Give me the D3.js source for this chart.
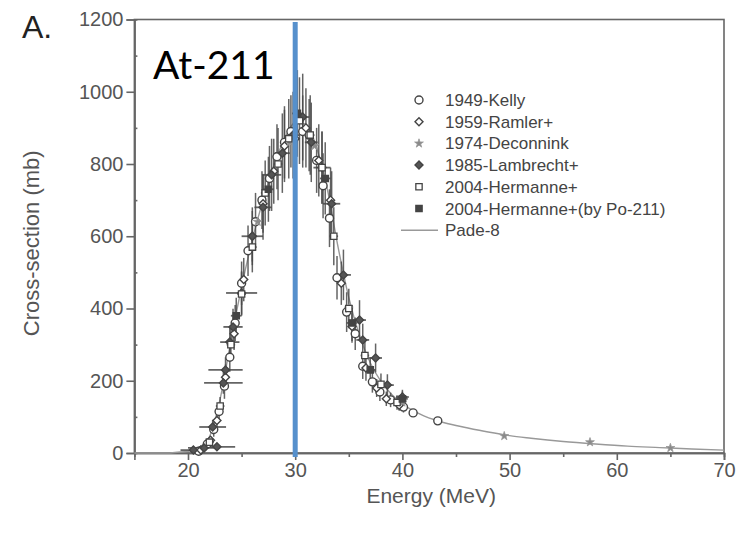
<!DOCTYPE html>
<html>
<head>
<meta charset="utf-8">
<script src="https://cdn.jsdelivr.net/npm/d3@7/dist/d3.min.js"></script>
<style>
  html, body { margin: 0; padding: 0; background: #fff; }
  svg { display: block; }
</style>
</head>
<body>
<svg id="chart" width="748" height="533"></svg>
<script>
// ---------------- DATA ----------------
// each record: [energy (MeV), cross-section (mb), dE (MeV), dSigma (mb)]
const kelly = [
  [21.0, 5, 0, 6], [21.8, 25, 0, 10], [22.4, 65, 0, 20], [22.9, 115, 0, 25],
  [23.4, 185, 0, 35], [23.9, 265, 0, 40], [24.4, 360, 0, 50], [25.0, 470, 0, 60],
  [25.6, 560, 0, 70], [26.3, 640, 0, 80], [26.9, 700, 0, 80], [27.6, 760, 0, 90],
  [28.3, 820, 0, 90], [29.0, 860, 0, 100], [29.6, 890, 0, 100], [30.7, 890, 0, 100],
  [31.3, 880, 0, 100], [32.0, 810, 0, 90], [32.6, 740, 0, 90], [33.2, 650, 0, 80],
  [33.9, 485, 0, 60], [34.8, 390, 0, 55], [35.6, 330, 0, 45], [36.3, 240, 0, 35],
  [37.2, 197, 0, 30], [37.9, 169, 0, 25], [38.9, 147, 0, 20], [40.1, 127, 0, 15],
  [41.0, 111, 0, 0], [43.3, 89, 0, 0]
];
const ramler = [
  [21.2, 8, 0, 6], [22.1, 35, 0, 12], [22.7, 90, 0, 20], [23.5, 210, 0, 35],
  [24.3, 330, 0, 45], [25.2, 480, 0, 60], [26.0, 600, 0, 70], [27.0, 690, 0, 80],
  [28.0, 780, 0, 90], [29.0, 850, 0, 100], [30.0, 870, 0, 110], [31.0, 900, 0, 110],
  [32.2, 810, 0, 100], [33.3, 700, 0, 90], [34.3, 470, 0, 60], [35.3, 350, 0, 45],
  [36.6, 235, 0, 35], [37.6, 180, 0, 25], [38.5, 150, 0, 20], [39.7, 132, 0, 15]
];
const deconnink = [
  [26.5, 640, 0, 0], [29.5, 860, 0, 0], [31.8, 850, 0, 0], [35.0, 400, 0, 0],
  [40.0, 140, 0, 0], [49.5, 47, 0, 0], [57.5, 30, 0, 0], [65.0, 14, 0, 0]
];
const lambrecht = [
  [20.5, 8, 1.2, 5], [21.5, 14, 1.5, 8], [22.7, 17, 1.7, 10], [22.3, 72, 1.25, 20],
  [23.3, 194, 1.8, 30], [23.5, 230, 1.6, 35], [23.9, 307, 0.9, 45], [24.2, 349, 0.9, 50],
  [25.0, 443, 1.45, 60], [26.0, 600, 1.0, 80], [27.0, 680, 0.8, 90], [27.8, 770, 0.9, 100],
  [28.8, 830, 0.7, 110], [29.8, 880, 0.6, 120], [30.7, 930, 0.6, 120], [31.5, 860, 0.6, 110],
  [32.5, 790, 0.8, 100], [33.4, 690, 0.8, 90], [34.5, 493, 0.7, 70], [36.0, 368, 0.6, 55],
  [36.3, 313, 0.6, 45], [37.5, 263, 0.6, 40], [38.6, 188, 0.6, 30], [40.0, 155, 0.6, 20]
];
const hermanne = [
  [22.0, 30, 0.4, 10], [23.0, 130, 0.4, 25], [24.0, 300, 0.4, 45], [25.0, 440, 0.4, 60],
  [26.0, 570, 0.4, 70], [27.2, 720, 0.4, 90], [28.4, 800, 0.4, 100], [29.4, 870, 0.4, 110],
  [30.4, 920, 0.4, 120], [31.4, 880, 0.4, 110], [32.5, 790, 0.4, 100], [33.6, 600, 0.4, 80],
  [35.0, 400, 0.4, 55], [36.5, 270, 0.4, 40], [38.0, 190, 0.4, 30], [39.5, 140, 0.4, 20]
];
const hermannePo = [
  [24.5, 380, 0.5, 50], [27.5, 730, 0.5, 90], [30.2, 940, 0.5, 120], [32.8, 760, 0.5, 100],
  [35.3, 360, 0.5, 50], [37.0, 230, 0.5, 35], [40.0, 150, 0.5, 20]
];
// Pade-8 fit curve
const padeE = [15, 18, 19, 20, 21, 22, 23, 24, 25, 26, 27, 28, 29, 30, 31, 32, 33, 34, 35, 36, 37, 38, 39, 40, 41, 42, 43, 44, 46, 48, 50, 52, 55, 58, 61, 64, 67, 70];
const padeS = [0, 0, 2, 5, 15, 45, 150, 310, 460, 590, 700, 795, 870, 915, 910, 845, 730, 570, 430, 325, 250, 198, 162, 136, 117, 103, 92, 83, 70, 58, 48, 41, 32, 25, 19, 15, 11, 8];

const legendLabels = ["1949-Kelly", "1959-Ramler+", "1974-Deconnink", "1985-Lambrecht+",
                      "2004-Hermanne+", "2004-Hermanne+(by Po-211)", "Pade-8"];
const xTicks = [20, 30, 40, 50, 60, 70];
const xMinorTicks = [25, 35, 45, 55, 65];
const yTicks = [0, 200, 400, 600, 800, 1000, 1200];
const yMinorTicks = [100, 300, 500, 700, 900, 1100];
const markerLine = 30;

// ---------------- CHART ----------------
const svg = d3.select("#chart");
const x = d3.scaleLinear().domain([15, 70]).range([134.4, 724]);
const y = d3.scaleLinear().domain([0, 1200]).range([453, 19.5]);

const font = "'Liberation Sans', Arial, Helvetica, sans-serif";
const axisColor = "#666";

// frame
svg.append("rect")
  .attr("x", x(15)).attr("y", y(1200))
  .attr("width", x(70) - x(15)).attr("height", y(0) - y(1200))
  .attr("fill", "none").attr("stroke", axisColor).attr("stroke-width", 1.6);

// axes
const gx = svg.append("g").attr("transform", `translate(0,${y(0)})`)
  .call(d3.axisBottom(x).tickValues(xTicks).tickSize(7).tickPadding(3).tickFormat(d3.format("d")));
const gxm = svg.append("g").attr("transform", `translate(0,${y(0)})`)
  .call(d3.axisBottom(x).tickValues(xMinorTicks).tickSize(4).tickFormat(""));
const gy = svg.append("g").attr("transform", `translate(${x(15)},0)`)
  .call(d3.axisLeft(y).tickValues(yTicks).tickSize(8).tickPadding(3).tickFormat(d3.format("d")));
const gym = svg.append("g").attr("transform", `translate(${x(15)},0)`)
  .call(d3.axisLeft(y).tickValues(yMinorTicks).tickSize(-3).tickFormat(""));

[gx, gxm, gy, gym].forEach(g => {
  g.select(".domain").attr("stroke", axisColor).attr("stroke-width", 1.6);
  g.selectAll(".tick line").attr("stroke", axisColor).attr("stroke-width", 1.6);
  g.selectAll(".tick text").attr("fill", "#555").style("font-family", font).style("font-size", "20px");
});

// axis titles
svg.append("text")
  .attr("x", (x(15) + x(70)) / 2 + 2).attr("y", 503)
  .attr("text-anchor", "middle").attr("fill", "#555")
  .style("font-family", font).style("font-size", "21px")
  .text("Energy (MeV)");
svg.append("text")
  .attr("transform", `translate(39,${(y(0) + y(1200)) / 2 + 7}) rotate(-90)`)
  .attr("text-anchor", "middle").attr("fill", "#555")
  .style("font-family", font).style("font-size", "22px")
  .text("Cross-section (mb)");

// panel label
svg.append("text").attr("x", 22).attr("y", 38)
  .attr("fill", "#222").style("font-family", font).style("font-size", "32px").text("A.");

// Pade curve
const padeData = padeE.map((e, i) => [e, padeS[i]]);
svg.append("path").datum(padeData)
  .attr("fill", "none").attr("stroke", "#999").attr("stroke-width", 1.4)
  .attr("d", d3.line().x(d => x(d[0])).y(d => y(d[1])).curve(d3.curveMonotoneX));

// error bars
const errColor = "#4a4a4a";
const allSeries = [
  { data: kelly, sym: "circle" },
  { data: ramler, sym: "diamondOpen" },
  { data: deconnink, sym: "star" },
  { data: lambrecht, sym: "diamondFilled" },
  { data: hermanne, sym: "squareOpen" },
  { data: hermannePo, sym: "squareFilled" }
];
const gErr = svg.append("g");
allSeries.forEach(s => {
  s.data.forEach(d => {
    if (d[3] > 0) {
      gErr.append("line")
        .attr("x1", x(d[0])).attr("x2", x(d[0]))
        .attr("y1", y(d[1] - d[3])).attr("y2", y(d[1] + d[3]))
        .attr("stroke", errColor).attr("stroke-width", 1.5).attr("opacity", 0.85);
    }
    if (d[2] > 0) {
      gErr.append("line")
        .attr("x1", x(d[0] - d[2])).attr("x2", x(d[0] + d[2]))
        .attr("y1", y(d[1])).attr("y2", y(d[1]))
        .attr("stroke", errColor).attr("stroke-width", 1.8).attr("opacity", 0.85);
    }
  });
});

function drawMarker(g, sym, cx, cy) {
  if (sym === "circle") {
    g.append("circle").attr("cx", cx).attr("cy", cy).attr("r", 4)
      .attr("fill", "#fff").attr("stroke", "#444").attr("stroke-width", 1.4);
  } else if (sym === "diamondOpen" || sym === "diamondFilled") {
    g.append("path").attr("transform", `translate(${cx},${cy}) rotate(45)`)
      .attr("d", d3.symbol().type(d3.symbolSquare).size(32)())
      .attr("fill", sym === "diamondOpen" ? "#fff" : "#555")
      .attr("stroke", "#444").attr("stroke-width", 1.4);
  } else if (sym === "squareOpen" || sym === "squareFilled") {
    g.append("path").attr("transform", `translate(${cx},${cy})`)
      .attr("d", d3.symbol().type(d3.symbolSquare).size(40)())
      .attr("fill", sym === "squareOpen" ? "#fff" : "#444")
      .attr("stroke", "#444").attr("stroke-width", 1.3);
  } else if (sym === "star") {
    g.append("path").attr("transform", `translate(${cx},${cy})`)
      .attr("d", d3.symbol().type(d3.symbolStar).size(24)())
      .attr("fill", "#8a8a8a").attr("stroke", "#999").attr("stroke-width", 0.8);
  }
}

const gMarks = svg.append("g");
allSeries.forEach(s => {
  s.data.forEach(d => drawMarker(gMarks, s.sym, x(d[0]), y(d[1])));
});

// legend
const legX = 419, legTextX = 445, legY0 = 100, legDy = 21.7;
const legend = svg.append("g");
legendLabels.forEach((lab, i) => {
  const cy = legY0 + i * legDy;
  if (i < 6) {
    drawMarker(legend, allSeries[i].sym, legX, cy);
  } else {
    legend.append("line").attr("x1", 401).attr("x2", 438).attr("y1", cy).attr("y2", cy)
      .attr("stroke", "#999").attr("stroke-width", 1.4);
  }
  legend.append("text").attr("x", legTextX).attr("y", cy + 6)
    .attr("fill", "#444").style("font-family", font).style("font-size", "17px").text(lab);
});

// At-211 marker line
svg.append("line")
  .attr("x1", x(markerLine)).attr("x2", x(markerLine))
  .attr("y1", 22).attr("y2", 457)
  .attr("stroke", "#5690cc").attr("stroke-width", 5);

svg.append("text").attr("x", 153).attr("y", 79)
  .attr("fill", "#000").style("font-family", "Lato, 'Open Sans', sans-serif").style("font-size", "39px")
  .text("At-211");
</script>
</body>
</html>
